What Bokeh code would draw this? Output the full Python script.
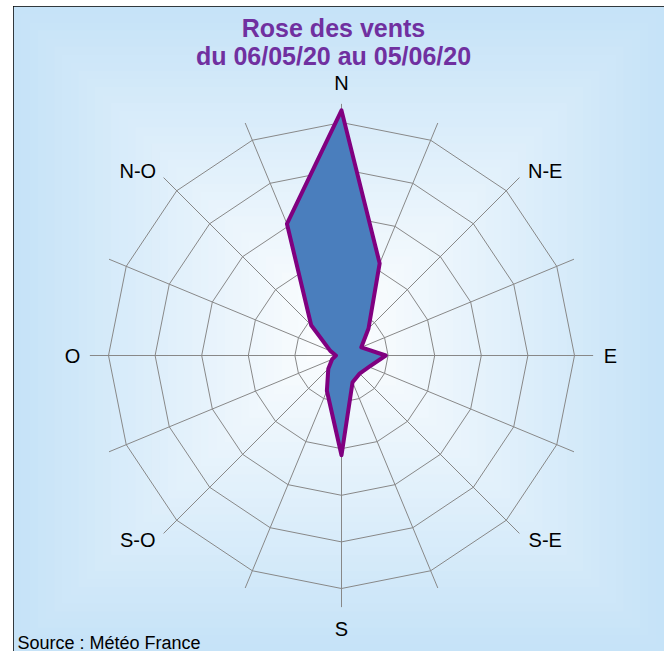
import numpy as np
from bokeh.plotting import figure
from bokeh.models import Range1d
from bokeh.embed import file_html
from bokeh.resources import INLINE
from bokeh.core.properties import value

# ---------------- data ----------------
directions = ["N", "NNE", "NE", "ENE", "E", "ESE", "SE", "SSE",
              "S", "SSW", "SW", "WSW", "W", "WNW", "NW", "NNW"]
frequencies = [26.3, 10.7, 4.1, 2.3, 4.75, 3.2, 2.75, 3.1,
               10.7, 4.1, 2.0, 1.1, 0.6, 1.3, 4.6, 15.3]
ring_levels = [5, 10, 15, 20, 25]
label_names = ["N", "N-E", "E", "S-E", "S", "S-O", "O", "N-O"]
title_lines = ["Rose des vents", "du 06/05/20 au 05/06/20"]
source_text = "Source : Météo France"

# ---------------- geometry / layout ----------------
K = 9.32             # pixels per unit
CX, CY = 341, 355    # screen centre of the rose
FX0, FY0 = 13, 6     # figure top-left on page
W, H = 651, 645
label_ang = [0, 47.8, 90, 132.2, 180, 227.8, 270, 312.2]    # degrees
label_rpx = [273, 275, 269, 275, 273, 275, 269, 275]        # pixels

def sx(X):
    return (X - CX) / K

def sy(Y):
    return (CY - Y) / K

p = figure(width=W, height=H, output_backend="svg", toolbar_location=None,
           x_range=Range1d(sx(FX0), sx(FX0 + W)),
           y_range=Range1d(sy(FY0 + H), sy(FY0)),
           min_border=0)
p.margin = (FY0, 0, 0, FX0)
p.axis.visible = False
p.grid.visible = False
p.outline_line_color = "black"
p.outline_line_width = 2
p.background_fill_color = "#c6e3f8"
p.border_fill_color = "white"

# background gradient (rectangular path gradient)
edge = np.array([198, 227, 248])
centre = np.array([255, 255, 255])
n = 40
gx0, gx1, gy0, gy1 = FX0, FX0 + W, FY0, FY0 + H
gcx, gcy = (gx0 + gx1) / 2, (gy0 + gy1) / 2
hw, hh = (gx1 - gx0) / 2, (gy1 - gy0) / 2
ss = np.linspace(1.0, 0.0, n, endpoint=False)
cols = []
for s in ss:
    t = (1 - s)
    c = (edge + (centre - edge) * t).astype(int)
    cols.append("#%02x%02x%02x" % tuple(c))
p.quad(left=[sx(gcx - s * hw) for s in ss], right=[sx(gcx + s * hw) for s in ss],
       top=[sy(gcy - s * hh) for s in ss], bottom=[sy(gcy + s * hh) for s in ss],
       fill_color=cols, line_color=None)

theta = np.deg2rad(np.arange(len(directions)) * 22.5)

# rings
for lev in ring_levels:
    xs = list(lev * np.sin(theta)) + [0.0]
    ys = list(lev * np.cos(theta)) + [lev]
    xs[-1] = xs[0]
    p.line(xs, ys, line_color="#888888", line_width=1)

# spokes
spoke_r = 27.0
p.segment(x0=[0] * len(theta), y0=[0] * len(theta),
          x1=list(spoke_r * np.sin(theta)), y1=list(spoke_r * np.cos(theta)),
          line_color="#888888", line_width=1)

# data polygon
r = np.array(frequencies)
px = list(r * np.sin(theta))
py = list(r * np.cos(theta))
p.patch(px + [px[0]], py + [py[0]], fill_color="#4a7ebd", fill_alpha=1.0,
        line_color="#800080", line_width=4, line_join="round")

# direction labels
la = np.deg2rad(label_ang)
lr = np.array(label_rpx) / K
p.text(x=list(lr * np.sin(la)), y=list(lr * np.cos(la)), text=label_names,
       text_font=value("Liberation Sans"), text_font_size="20px",
       text_color="black", text_align="center", text_baseline="middle")

# title
p.text(x=[sx(333), sx(333)], y=[sy(27), sy(55)], text=title_lines,
       text_font=value("Liberation Sans"), text_font_style="bold",
       text_font_size="25px", text_color="#7030a0",
       text_align="center", text_baseline="middle")

# source
p.text(x=[sx(17)], y=[sy(642)], text=[source_text],
       text_font=value("Liberation Sans"), text_font_size="18px",
       text_color="black", text_align="left", text_baseline="middle")

open("out.html", "w").write(file_html(p, INLINE))
